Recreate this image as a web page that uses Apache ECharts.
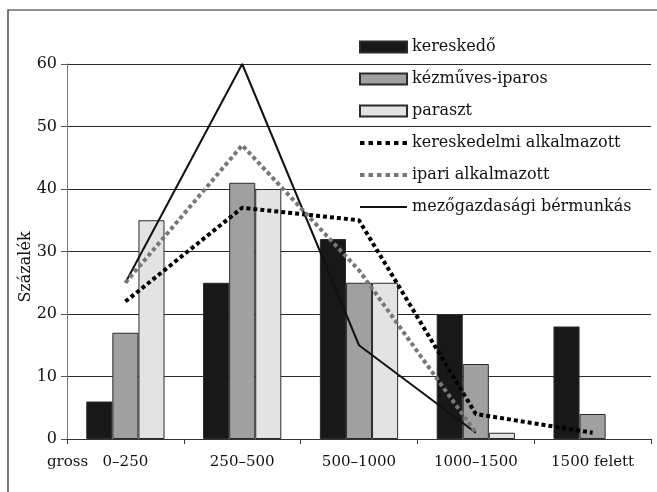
<!DOCTYPE html>
<html>
<head>
<meta charset="utf-8">
<script src="https://cdn.jsdelivr.net/npm/echarts@6/dist/echarts.min.js"></script>
<style>
html,body{margin:0;padding:0;background:#fff;}
#chart{width:657px;height:492px;}
</style>
</head>
<body>
<div id="chart"></div>
<script>
const categories = ['0–250', '250–500', '500–1000', '1000–1500', '1500 felett'];
const yTicks = [0, 10, 20, 30, 40, 50, 60];
const kereskedo = [6, 25, 32, 20, 18];
const kezmuves = [17, 41, 25, 12, 4];
const paraszt = [35, 40, 25, 1, null];
const kereskedelmiAlk = [22, 37, 35, 4, 1];
const ipariAlk = [25, 47, 27, 1, null];
const mezogazdasagi = [25, 60, 15, 1, null];

const FONT = 'DejaVu Serif';
const chart = echarts.init(document.getElementById('chart'), null, {renderer: 'canvas'});
const barBorder = {borderColor: '#2a2a2a', borderWidth: 1};

// legend icons (47 x 11 box, bbox forced by degenerate segments)
const box = 'M0,0L0,0M47,11L47,11';
let dots = '';
for (let i = 0; i < 6; i++) {
  const x = i * 8.5;
  dots += 'M' + x + ',3.5h4.5v4h-4.5z';
}
const dotIcon = 'path://' + box + dots;
const solidIcon = 'path://' + box + 'M0,4.5h47v2h-47z';

chart.setOption({
  animation: false,
  backgroundColor: '#fff',
  grid: {left: 67, right: 6, top: 64, bottom: 53, containLabel: false},
  legend: {
    orient: 'vertical',
    left: 354,
    top: 34,
    itemWidth: 47,
    itemHeight: 11,
    itemGap: 16,
    textStyle: {fontFamily: FONT, fontSize: 16, color: '#111', lineHeight: 16},
    data: [
      {name: 'kereskedő', icon: 'rect'},
      {name: 'kézműves-iparos', icon: 'rect'},
      {name: 'paraszt', icon: 'rect'},
      {name: 'kereskedelmi alkalmazott', icon: dotIcon, itemStyle: {color: '#000', borderWidth: 0}},
      {name: 'ipari alkalmazott', icon: dotIcon, itemStyle: {color: '#777', borderWidth: 0}},
      {name: 'mezőgazdasági bérmunkás', icon: solidIcon, itemStyle: {color: '#111', borderWidth: 0}}
    ]
  },
  xAxis: {
    type: 'category',
    data: categories,
    axisLine: {lineStyle: {color: '#333', width: 1}},
    axisTick: {show: true, length: 5, lineStyle: {color: '#333'}},
    axisLabel: {fontFamily: FONT, fontSize: 15, color: '#111', margin: 16},
    splitLine: {show: false}
  },
  yAxis: {
    type: 'value',
    min: yTicks[0],
    max: yTicks[yTicks.length - 1],
    interval: 10,
    axisLine: {show: true, lineStyle: {color: '#777', width: 1}},
    axisTick: {show: true, length: 6, lineStyle: {color: '#555'}},
    axisLabel: {fontFamily: FONT, fontSize: 16, color: '#111', margin: 10},
    splitLine: {show: true, lineStyle: {color: '#2a2a2a', width: 1}}
  },
  graphic: [
    {type: 'rect', z: -10, shape: {x: 8, y: 10, width: 700, height: 600},
     style: {fill: 'none', stroke: '#222', lineWidth: 1.2}},
    {type: 'text', x: 26, y: 267, rotation: Math.PI / 2,
     style: {text: 'Százalék', fontFamily: FONT, fontSize: 16, fill: '#111', align: 'center', verticalAlign: 'middle'}},
    {type: 'text', x: 47, y: 462,
     style: {text: 'gross', fontFamily: FONT, fontSize: 15, fill: '#111', align: 'left', verticalAlign: 'middle'}}
  ],
  series: [
    {name: 'kereskedő', type: 'bar', data: kereskedo, barGap: '0%', barCategoryGap: '33%',
     itemStyle: Object.assign({color: '#181818'}, barBorder), z: 2},
    {name: 'kézműves-iparos', type: 'bar', data: kezmuves, barGap: '0%', barCategoryGap: '33%',
     itemStyle: Object.assign({color: '#a0a0a0'}, barBorder), z: 2},
    {name: 'paraszt', type: 'bar', data: paraszt, barGap: '0%', barCategoryGap: '33%',
     itemStyle: Object.assign({color: '#e3e3e3'}, barBorder), z: 2},
    {name: 'kereskedelmi alkalmazott', type: 'line', data: kereskedelmiAlk, symbol: 'none', z: 4,
     lineStyle: {color: '#000', width: 4, type: [4, 3], cap: 'butt'}, itemStyle: {color: '#000'}},
    {name: 'ipari alkalmazott', type: 'line', data: ipariAlk, symbol: 'none', z: 4,
     lineStyle: {color: '#777', width: 4, type: [4, 3], cap: 'butt'}, itemStyle: {color: '#777'}},
    {name: 'mezőgazdasági bérmunkás', type: 'line', data: mezogazdasagi, symbol: 'none', z: 3,
     lineStyle: {color: '#111', width: 2}, itemStyle: {color: '#111'}}
  ]
});
</script>
</body>
</html>
